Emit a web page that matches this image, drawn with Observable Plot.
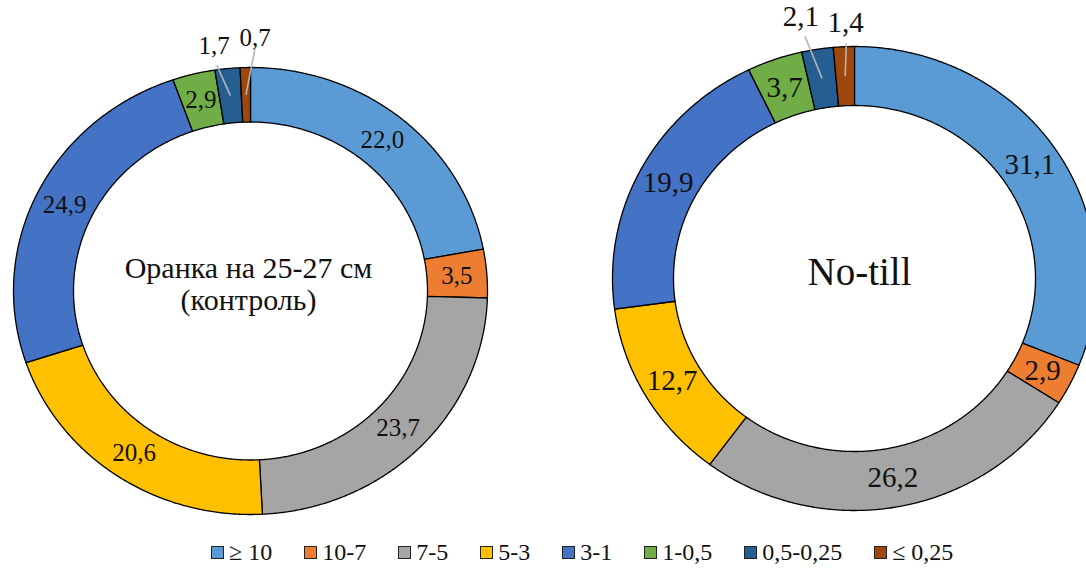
<!DOCTYPE html>
<html><head><meta charset="utf-8">
<script src="https://cdn.jsdelivr.net/npm/d3@7"></script>
<script src="https://cdn.jsdelivr.net/npm/@observablehq/plot@0.6"></script>
<style>
body{margin:0;background:#fff;font-family:"Liberation Serif","DejaVu Serif","Noto Serif",serif;}
#chart{width:1086px;height:570px;position:relative;overflow:hidden}
.legend{display:flex;align-items:center;gap:32px;padding-left:211px;height:36px;font-size:24px;color:#111;line-height:1}
.legend .item{display:flex;align-items:center;white-space:nowrap}
.legend .sw{width:11px;height:11px;border:1.3px solid #222;margin-right:5px}
</style></head><body><div id="chart"></div>
<script>
// ---- data ----
const classes = ["≥ 10","10-7","7-5","5-3","3-1","1-0,5","0,5-0,25","≤ 0,25"];
const colors = ["#5B9BD5","#ED7D31","#A5A5A5","#FFC000","#4472C4","#70AD47","#255E91","#9E480E"];
const valuesPlough = [22.0,3.5,23.7,20.6,24.9,2.9,1.7,0.7];
const valuesNoTill = [31.1,2.9,26.2,12.7,19.9,3.7,2.1,1.4];
const titlePlough = "Оранка на 25-27 см\n(контроль)";
const titleNoTill = "No-till";
// small slices whose labels sit outside with leader lines
const outsidePlough = ["0,5-0,25","≤ 0,25"];
const outsideNoTill = ["0,5-0,25","≤ 0,25"];

// ---- layout ----
const W = 1086, H = 534;
const FONT = "'Liberation Serif','DejaVu Serif','Noto Serif',serif";
const fmt = v => v.toFixed(1).replace(".", ",");
const donuts = [
  {values: valuesPlough, title: titlePlough, outside: outsidePlough,
   cx: 250, cy: 290.5, rx: 237, ry: 223.5, irx: 177, iry: 169, fs: 25, tfs: 30, tdy: -7, tlh: 1.05,
   callout: {"0,5-0,25": {a: 352.0, k: 1.105, kl: 1.02}, "≤ 0,25": {a: 1.0, k: 1.134, kl: 1.085}}},
  {values: valuesNoTill, title: titleNoTill, outside: outsideNoTill,
   cx: 854, cy: 278, rx: 242, ry: 232, irx: 181, iry: 173, fs: 29, tfs: 39, tdy: -6, tlh: 1,
   callout: {"0,5-0,25": {a: 348.9, k: 1.15, kl: 1.064}, "≤ 0,25": {a: 358.1, k: 1.104, kl: 1.014}}}
];
const rad = d => d * Math.PI / 180;
function pt(D, a, fx, fy) { return [D.cx + fx * Math.sin(a), D.cy - fy * Math.cos(a)]; }

const polys = [], labels = [], links = [], calloutLabels = [], titles = [];
donuts.forEach((D, di) => {
  let cum = 0;
  D.values.forEach((v, i) => {
    const a0 = cum / 100 * 2 * Math.PI, a1 = (cum + v) / 100 * 2 * Math.PI;
    const n = Math.max(2, Math.ceil((a1 - a0) / rad(0.4)));
    const key = di + "-" + i, cls = classes[i];
    const ring = [];
    for (let j = 0; j <= n; j++) ring.push(pt(D, a0 + (a1 - a0) * j / n, D.rx, D.ry));
    for (let j = n; j >= 0; j--) ring.push(pt(D, a0 + (a1 - a0) * j / n, D.irx, D.iry));
    ring.push(ring[0]);
    ring.forEach(([x, y]) => polys.push({key, cls, x, y}));
    const am = (a0 + a1) / 2;
    const [mx, my] = pt(D, am, (D.rx + D.irx) / 2, (D.ry + D.iry) / 2);
    if (D.outside.includes(cls)) {
      const c = D.callout[cls];
      const [lx, ly] = pt(D, rad(c.a), D.rx * c.k, D.ry * c.k);
      const [ex, ey] = pt(D, rad(c.a), D.rx * c.kl, D.ry * c.kl);
      links.push({x1: mx, y1: my, x2: ex, y2: ey});
      calloutLabels.push({donut: di, x: lx, y: ly, text: fmt(v)});
    } else {
      labels.push({donut: di, x: mx, y: my, text: fmt(v)});
    }
    cum += v;
  });
  titles.push({donut: di, x: D.cx - 2 + (di ? 7 : 0), y: D.cy + D.tdy, text: D.title});
});

const textMarks = [];
donuts.forEach((D, di) => {
  textMarks.push(Plot.text(labels.filter(d => d.donut === di), {x: "x", y: "y", text: "text", fontSize: D.fs, fill: "#111"}));
  textMarks.push(Plot.text(calloutLabels.filter(d => d.donut === di), {x: "x", y: "y", text: "text", fontSize: D.fs, fill: "#111"}));
  textMarks.push(Plot.text(titles.filter(d => d.donut === di), {x: "x", y: "y", text: "text", fontSize: D.tfs, lineHeight: D.tlh, fill: "#111"}));
});

const chart = Plot.plot({
  width: W, height: H, margin: 0,
  x: {domain: [0, W], range: [0, W], axis: null},
  y: {domain: [0, H], range: [0, H], axis: null},
  color: {domain: classes, range: colors},
  style: {fontFamily: FONT, background: "#fff", overflow: "visible"},
  marks: [
    Plot.line(polys, {x: "x", y: "y", z: "key", fill: "cls", stroke: "#000", strokeWidth: 1.3, curve: "linear"}),
    Plot.link(links, {x1: "x1", y1: "y1", x2: "x2", y2: "y2", stroke: "#b4b4b4", strokeWidth: 1.6}),
    ...textMarks
  ]
});
chart.querySelectorAll("text").forEach(t => t.style.fontFamily = FONT);
const root = document.getElementById("chart");
root.appendChild(chart);

const legend = document.createElement("div");
legend.className = "legend";
classes.forEach((c, i) => {
  const it = document.createElement("div");
  it.className = "item";
  const sw = document.createElement("span");
  sw.className = "sw";
  sw.style.background = colors[i];
  const tx = document.createElement("span");
  tx.textContent = c;
  it.appendChild(sw); it.appendChild(tx);
  legend.appendChild(it);
});
root.appendChild(legend);
</script>
</body></html>
